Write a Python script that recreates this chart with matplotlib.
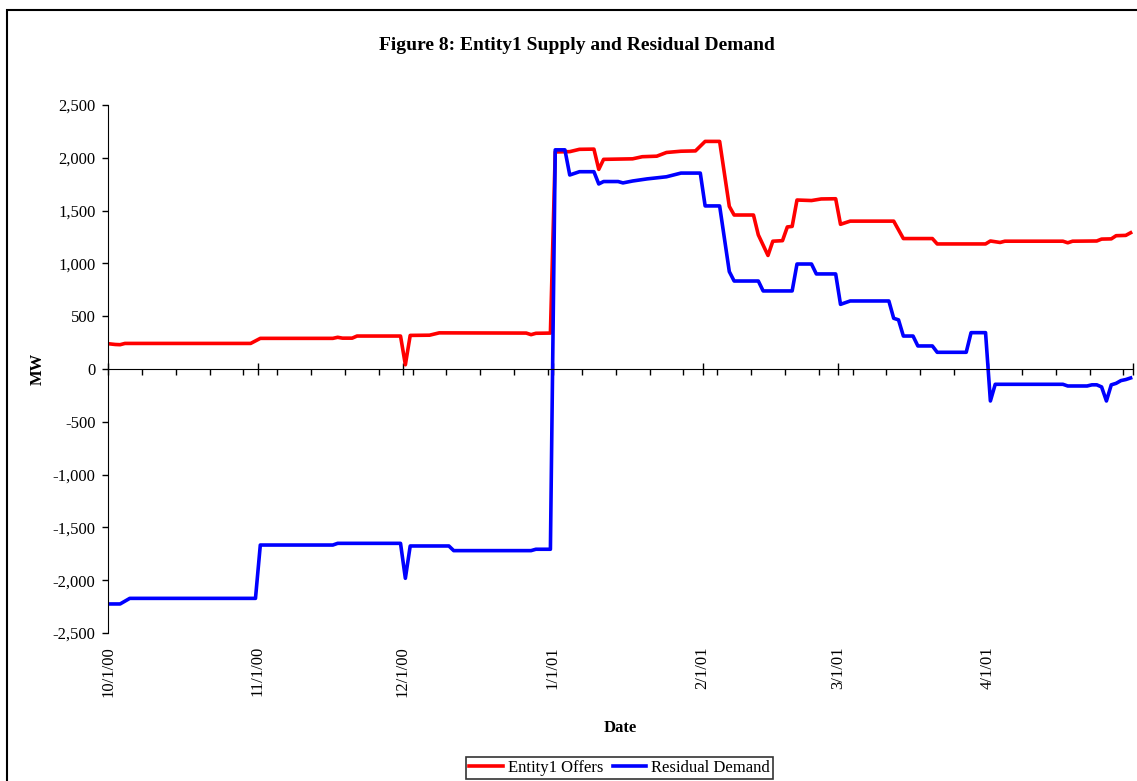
# Figure 8: Entity1 Supply and Residual Demand
import pandas as pd
import matplotlib
matplotlib.use("Agg")
import matplotlib.pyplot as plt
import matplotlib.dates as mdates
from matplotlib.ticker import FuncFormatter, MultipleLocator, FixedLocator
from matplotlib.patches import Rectangle

# --------------------------------------------
# Data (breakpoints of daily series)
# --------------------------------------------
offer_dates = [
    "2000-10-01", "2000-10-02", "2000-10-03", "2000-10-04", "2000-10-30",
    "2000-11-01", "2000-11-16", "2000-11-17", "2000-11-18", "2000-11-20",
    "2000-11-21", "2000-11-30", "2000-12-01", "2000-12-02", "2000-12-06",
    "2000-12-08", "2000-12-26", "2000-12-27", "2000-12-28", "2000-12-31",
    "2001-01-01", "2001-01-04", "2001-01-06", "2001-01-09", "2001-01-10",
    "2001-01-11", "2001-01-17", "2001-01-19", "2001-01-22", "2001-01-24",
    "2001-01-27", "2001-01-30", "2001-02-01", "2001-02-04", "2001-02-06",
    "2001-02-07", "2001-02-11", "2001-02-12", "2001-02-14", "2001-02-15",
    "2001-02-17", "2001-02-18", "2001-02-19", "2001-02-20", "2001-02-23",
    "2001-02-25", "2001-02-28", "2001-03-01", "2001-03-03", "2001-03-12",
    "2001-03-14", "2001-03-20", "2001-03-21", "2001-03-31", "2001-04-01",
    "2001-04-03", "2001-04-04", "2001-04-16", "2001-04-17", "2001-04-18",
    "2001-04-23", "2001-04-24", "2001-04-26", "2001-04-27", "2001-04-29",
    "2001-04-30",
]
offer_mw = [
    237, 232, 230, 242, 242,
    290, 290, 300, 292, 292,
    312, 312, 40, 318, 320,
    342, 340, 325, 338, 340,
    2055, 2058, 2080, 2082, 1890,
    1985, 1990, 2010, 2015, 2050,
    2062, 2065, 2155, 2155, 1540,
    1458, 1458, 1270, 1075, 1210,
    1215, 1345, 1350, 1600, 1595,
    1610, 1612, 1370, 1400, 1400,
    1235, 1235, 1184, 1184, 1212,
    1198, 1210, 1210, 1195, 1210,
    1212, 1230, 1232, 1262, 1265,
    1290,
]

demand_dates = [
    "2000-10-01", "2000-10-03", "2000-10-05", "2000-10-31", "2000-11-01",
    "2000-11-16", "2000-11-17", "2000-11-30", "2000-12-01", "2000-12-02",
    "2000-12-10", "2000-12-11", "2000-12-27", "2000-12-28", "2000-12-31",
    "2001-01-01", "2001-01-03", "2001-01-04", "2001-01-06", "2001-01-09",
    "2001-01-10", "2001-01-11", "2001-01-14", "2001-01-15", "2001-01-17",
    "2001-01-20", "2001-01-24", "2001-01-27", "2001-01-31", "2001-02-01",
    "2001-02-04", "2001-02-06", "2001-02-07", "2001-02-12", "2001-02-13",
    "2001-02-19", "2001-02-20", "2001-02-23", "2001-02-24", "2001-02-28",
    "2001-03-01", "2001-03-03", "2001-03-11", "2001-03-12", "2001-03-13",
    "2001-03-14", "2001-03-16", "2001-03-17", "2001-03-20", "2001-03-21",
    "2001-03-27", "2001-03-28", "2001-03-31", "2001-04-01", "2001-04-02",
    "2001-04-16", "2001-04-17", "2001-04-21", "2001-04-22", "2001-04-23",
    "2001-04-24", "2001-04-25", "2001-04-26", "2001-04-27", "2001-04-28",
    "2001-04-29", "2001-04-30",
]
demand_mw = [
    -2225, -2225, -2172, -2172, -1667,
    -1667, -1651, -1651, -1982, -1676,
    -1676, -1720, -1720, -1707, -1707,
    2075, 2075, 1837, 1868, 1868,
    1752, 1775, 1775, 1762, 1780,
    1800, 1820, 1855, 1855, 1544,
    1544, 922, 833, 833, 739,
    739, 994, 994, 900, 900,
    612, 644, 644, 480, 465,
    312, 312, 218, 218, 158,
    158, 344, 344, -303, -145,
    -145, -161, -161, -150, -150,
    -170, -303, -150, -136, -110,
    -100, -85,
]

series_labels = ["Entity1 Offers", "Residual Demand"]
last_labelled_month = pd.Timestamp("2001-04-01")


def month_label(v, pos):
    d = mdates.num2date(v).replace(tzinfo=None)
    if d > last_labelled_month:
        return ""
    return f"{d.month}/{d.day}/{d:%y}"


# --------------------------------------------
# Plot
# --------------------------------------------
plt.rcParams['font.family'] = ['Liberation Serif', 'DejaVu Serif']

fig = plt.figure(figsize=(11.37, 7.81), dpi=100)
ax = fig.add_axes([0.095, 0.1895, 0.9015, 0.6761])

# daily points sit in the middle of each day
offer_x = pd.to_datetime(offer_dates) + pd.Timedelta(hours=12)
demand_x = pd.to_datetime(demand_dates) + pd.Timedelta(hours=12)

ax.plot(offer_x, offer_mw, color='#FF0000', lw=2.6, label=series_labels[0])
ax.plot(demand_x, demand_mw, color='#0000FF', lw=2.6, label=series_labels[1])

ax.set_xlim(pd.Timestamp("2000-10-01"), pd.Timestamp("2001-05-01"))
ax.set_ylim(-2500, 2500)

# y axis
ax.yaxis.set_major_locator(MultipleLocator(500))
ax.yaxis.set_major_formatter(FuncFormatter(lambda v, p: f"{v:,.0f}"))
ax.tick_params(axis='y', direction='out', length=4, width=1, pad=5, labelsize=12)

# x axis crosses at zero, labels pushed to the bottom
ax.spines['bottom'].set_position(('data', 0))
ax.spines['top'].set_visible(False)
ax.spines['right'].set_visible(False)
ax.xaxis.set_major_locator(mdates.MonthLocator())
ax.xaxis.set_major_formatter(FuncFormatter(month_label))
week_ticks = pd.date_range("2000-10-01", "2001-05-01", freq="7D")
ax.xaxis.set_minor_locator(FixedLocator(mdates.date2num(week_ticks)))
ax.tick_params(axis='x', which='major', direction='inout', length=9, width=1,
               pad=195, labelsize=12, labelrotation=90)
ax.tick_params(axis='x', which='minor', direction='out', length=4, width=1)

ax.set_xlabel("Date", fontsize=12, fontweight='bold')
ax.xaxis.set_label_coords(0.5, -0.165)
ax.set_ylabel("MW", fontsize=12, fontweight='bold')
ax.yaxis.set_label_coords(-0.061, 0.5)

fig.text(0.507, 0.942, "Figure 8: Entity1 Supply and Residual Demand",
         ha='center', va='center', fontsize=14, fontweight='bold')

leg = fig.legend(loc='lower center', bbox_to_anchor=(0.545, 0.002), ncol=2,
                 fontsize=12, frameon=True, fancybox=False, handlelength=2.0,
                 handletextpad=0.3, columnspacing=0.6, borderpad=0.2,
                 borderaxespad=0)
leg.get_frame().set_edgecolor('black')
leg.get_frame().set_linewidth(1.2)

# chart area border
fig.patches.append(Rectangle((7 / 1137, -0.05), 1.1, 0.05 + 1 - 10 / 781,
                             transform=fig.transFigure, fill=False,
                             edgecolor='black', lw=1.5))

fig.savefig("out.png", dpi=100)
